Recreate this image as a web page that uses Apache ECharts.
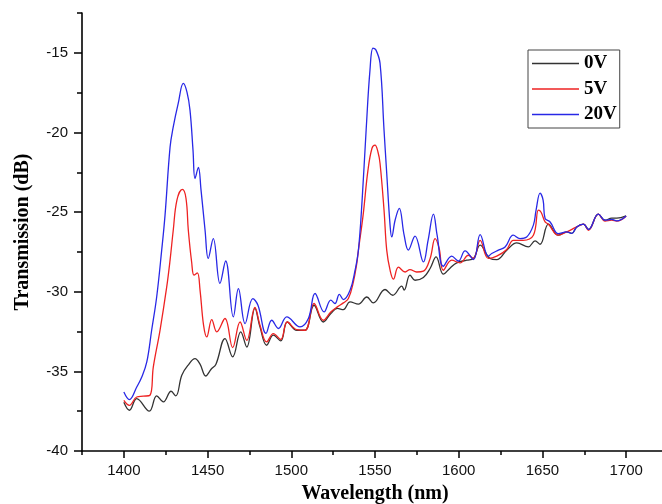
<!DOCTYPE html>
<html><head><meta charset="utf-8">
<script src="https://cdn.jsdelivr.net/npm/echarts@6/dist/echarts.min.js"></script>
<style>html,body{margin:0;padding:0;background:#fff}#c{width:662px;height:504px}</style>
</head><body><div id="c"></div>
<script>
var seriesNames = ['0V', '5V', '20V'];
var xTickLabels = [1400, 1450, 1500, 1550, 1600, 1650, 1700];
var xMinorTicks = [1375, 1425, 1475, 1525, 1575, 1625, 1675, 1725];
var yTickLabels = [-40, -35, -30, -25, -20, -15];
var yMinorTicks = [-37.5, -32.5, -27.5, -22.5, -17.5, -12.5];

var wl0 = [1400,1403.3,1407.7,1415.2,1419.6,1423.6,1428.2,1431,1434.6,1438.3,1442.5,1445.5,1448.9,1452.1,1455,1460.4,1465,1469.8,1473.4,1478.3,1481.3,1485.3,1489.3,1493.7,1497.6,1503.3,1508.2,1513.6,1519.1,1523.6,1527.5,1531.1,1535.1,1540.1,1545.1,1549,1556,1560.6,1566,1567.4,1570.9,1573.9,1578.9,1582.9,1586.5,1590.8,1594.8,1598.8,1604.8,1608.8,1612.8,1618.7,1622.7,1628.7,1634.7,1641.6,1645.6,1648.6,1653.6,1659.5,1664.5,1667.5,1670.5,1674.5,1677.5,1683.4,1687.4,1691.4,1694.4,1700];
var t0 = [-36.94,-37.44,-36.71,-37.5,-36.54,-36.92,-36.25,-36.54,-35.24,-34.62,-34.2,-34.55,-35.29,-34.87,-34.55,-32.94,-34.09,-32.52,-33.47,-31.05,-32.21,-33.36,-32.73,-33.09,-31.9,-32.42,-32.42,-30.85,-31.9,-31.37,-31.05,-31.12,-30.64,-30.78,-30.33,-30.7,-29.86,-30.22,-29.65,-29.9,-28.96,-29.28,-29.11,-28.54,-27.81,-28.9,-28.52,-28.19,-28.02,-27.91,-27.08,-27.91,-27.98,-27.39,-26.93,-27.18,-26.81,-27.02,-25.76,-26.45,-26.24,-26.34,-25.93,-25.76,-26.09,-25.13,-25.51,-25.38,-25.38,-25.24];

var wl5 = [1400,1403.3,1407.7,1411.6,1415.6,1417.6,1421.6,1425.6,1427.6,1429.5,1431.7,1434.9,1437.1,1438.5,1440.5,1441.9,1443.9,1445.5,1447.6,1449.5,1452.5,1455.5,1460.4,1465,1469.4,1473.4,1478.3,1481.3,1485.3,1489.3,1493.7,1497.6,1503.3,1508.2,1513.6,1519.1,1523.6,1527.5,1531.1,1534.1,1537.1,1539.1,1540.1,1542.9,1545.8,1548.2,1550,1551.8,1553,1555.4,1557,1559,1561,1564,1568,1570.9,1574.9,1578.9,1582.9,1585.9,1588.3,1590.8,1595.8,1600.8,1605.8,1608.8,1612.8,1617.7,1622.7,1628.7,1632.6,1638.4,1644.6,1647.6,1649.2,1651.6,1653.6,1659.5,1664.5,1670.5,1674.5,1677.5,1683.4,1687.4,1691.4,1694.4,1700];
var t5 = [-36.82,-37.13,-36.61,-36.56,-36.5,-34.72,-32.42,-29.7,-28.02,-26.14,-24.25,-23.58,-24.13,-26.14,-28.15,-28.96,-28.82,-29.9,-32.1,-32.84,-31.75,-32.52,-31.68,-33.51,-31.9,-33.05,-30.99,-32.1,-33.15,-32.63,-33,-31.9,-32.38,-32.42,-30.74,-31.79,-31.27,-30.95,-30.7,-30.43,-29.38,-28.23,-27.39,-25.19,-22.37,-20.99,-20.8,-21.24,-21.93,-24.88,-27.39,-28.65,-29.21,-28.46,-28.76,-28.61,-28.76,-28.71,-27.92,-26.66,-27.27,-28.65,-28.02,-28.19,-27.71,-27.91,-26.77,-27.91,-27.77,-27.35,-26.77,-26.77,-26.45,-24.88,-25.01,-25.62,-25.76,-26.45,-26.24,-25.93,-25.76,-26.14,-25.13,-25.57,-25.51,-25.57,-25.26];

var wl20 = [1400,1403.3,1407.7,1410.7,1413.7,1416.6,1419.6,1422.6,1424.6,1427.6,1429.5,1432.5,1435.5,1437.7,1439.5,1441.3,1442.5,1444.5,1446.1,1448.5,1450.4,1453.4,1457.4,1460.8,1465.4,1468.4,1472.4,1477,1480.1,1484.9,1488.3,1492.3,1497.3,1505.2,1510.2,1514.2,1519.6,1523.6,1526.1,1528.7,1531.1,1535.1,1538.1,1540.1,1542.3,1544.7,1547,1548.8,1550.6,1553,1555.4,1557,1559,1560,1562,1564.5,1567.4,1569.9,1573.9,1578.9,1581.7,1584.9,1587.1,1590.8,1595.8,1599.8,1603.8,1608.8,1612.8,1617.7,1619.7,1623.7,1627.7,1632.6,1636.6,1640.6,1644.6,1646.2,1648.6,1650.4,1651.6,1654.6,1659.5,1664.5,1667.5,1670.5,1674.5,1677.5,1683.4,1687.4,1691.4,1694.4,1700];
var t20 = [-36.29,-36.77,-35.98,-35.35,-34.41,-32.42,-30.33,-27.39,-25.19,-20.92,-19.65,-18.16,-16.92,-17.47,-18.6,-21.11,-22.89,-22.2,-23.62,-26.14,-27.91,-26.66,-29.48,-28.07,-31.58,-29.8,-32,-30.43,-30.85,-32.62,-31.79,-32.31,-31.58,-32.21,-31.68,-30.11,-31.27,-30.53,-30.74,-30.16,-30.49,-29.91,-28.65,-27.39,-24.25,-19.86,-16.09,-14.7,-14.83,-15.65,-19.86,-22.56,-25.82,-26.56,-25.51,-24.77,-26.45,-27.39,-26.51,-28.13,-26.77,-25.13,-26.45,-28.4,-27.77,-28.07,-27.44,-27.98,-26.41,-27.77,-27.6,-27.39,-27.19,-26.45,-26.66,-26.56,-25.82,-24.88,-23.81,-24.25,-25.4,-25.62,-26.35,-26.24,-26.34,-25.93,-25.76,-26.09,-25.13,-25.51,-25.46,-25.55,-25.24];

function zip(xs, ys) {
  var out = [];
  for (var i = 0; i < Math.min(xs.length, ys.length); i++) out.push([xs[i], ys[i]]);
  return out;
}
function plain(v) { return String(v); }

var chart = echarts.init(document.getElementById('c'), null, {renderer: 'canvas'});
var axisBlack = {lineStyle: {color: '#000', width: 1.6}};
var xBase = {type: 'value', min: 1375, max: 1725, position: 'bottom', splitLine: {show: false}};
var yBase = {type: 'value', min: -40, max: -12.5, position: 'left', splitLine: {show: false}};
var colors = ['#333333', '#ee2222', '#2828e6'];
var option = {
  backgroundColor: '#fff',
  animation: false,
  grid: {left: 82, right: -6, top: 13, bottom: 53, containLabel: false, outerBoundsMode: 'none'},
  legend: {
    orient: 'vertical', left: 528, top: 50,
    padding: [4, 3, 4, 4], itemGap: 6.5, itemWidth: 47, itemHeight: 1.5,
    icon: 'rect',
    borderColor: '#444', borderWidth: 1,
    textStyle: {fontFamily: 'Liberation Serif', fontWeight: 'bold', fontSize: 19, color: '#000', lineHeight: 19},
    data: seriesNames
  },
  xAxis: [
    Object.assign({}, xBase, {
      name: 'Wavelength (nm)', nameLocation: 'middle', nameGap: 33,
      nameTextStyle: {fontFamily: 'Liberation Serif', fontWeight: 'bold', fontSize: 20, color: '#000'},
      axisLine: axisBlack,
      axisTick: {show: true, length: 7, lineStyle: {color: '#000', width: 1.5}, customValues: xTickLabels},
      axisLabel: {fontFamily: 'Liberation Sans', fontSize: 15, color: '#111', margin: 12, customValues: xTickLabels, formatter: plain}
    }),
    Object.assign({}, xBase, {
      axisLine: {show: false},
      axisTick: {show: true, length: 4, lineStyle: {color: '#000', width: 1.5}, customValues: xMinorTicks},
      axisLabel: {show: false, customValues: xMinorTicks}
    })
  ],
  yAxis: [
    Object.assign({}, yBase, {
      name: 'Transmission (dB)', nameLocation: 'middle', nameGap: 49,
      nameTextStyle: {fontFamily: 'Liberation Serif', fontWeight: 'bold', fontSize: 20, color: '#000'},
      axisLine: axisBlack,
      axisTick: {show: true, length: 8, lineStyle: {color: '#000', width: 1.5}, customValues: yTickLabels},
      axisLabel: {fontFamily: 'Liberation Sans', fontSize: 15, color: '#111', margin: 14, customValues: yTickLabels, formatter: plain}
    }),
    Object.assign({}, yBase, {
      axisLine: {show: false},
      axisTick: {show: true, length: 5, lineStyle: {color: '#000', width: 1.5}, customValues: yMinorTicks},
      axisLabel: {show: false, customValues: yMinorTicks}
    })
  ],
  series: [
    {name: seriesNames[0], type: 'line', data: zip(wl0, t0), symbol: 'none', smooth: 0.4,
     lineStyle: {color: colors[0], width: 1.3}, itemStyle: {color: colors[0]}},
    {name: seriesNames[1], type: 'line', data: zip(wl5, t5), symbol: 'none', smooth: 0.4,
     lineStyle: {color: colors[1], width: 1.3}, itemStyle: {color: colors[1]}},
    {name: seriesNames[2], type: 'line', data: zip(wl20, t20), symbol: 'none', smooth: 0.4,
     lineStyle: {color: colors[2], width: 1.3}, itemStyle: {color: colors[2]}}
  ]
};
chart.setOption(option);
</script></body></html>
